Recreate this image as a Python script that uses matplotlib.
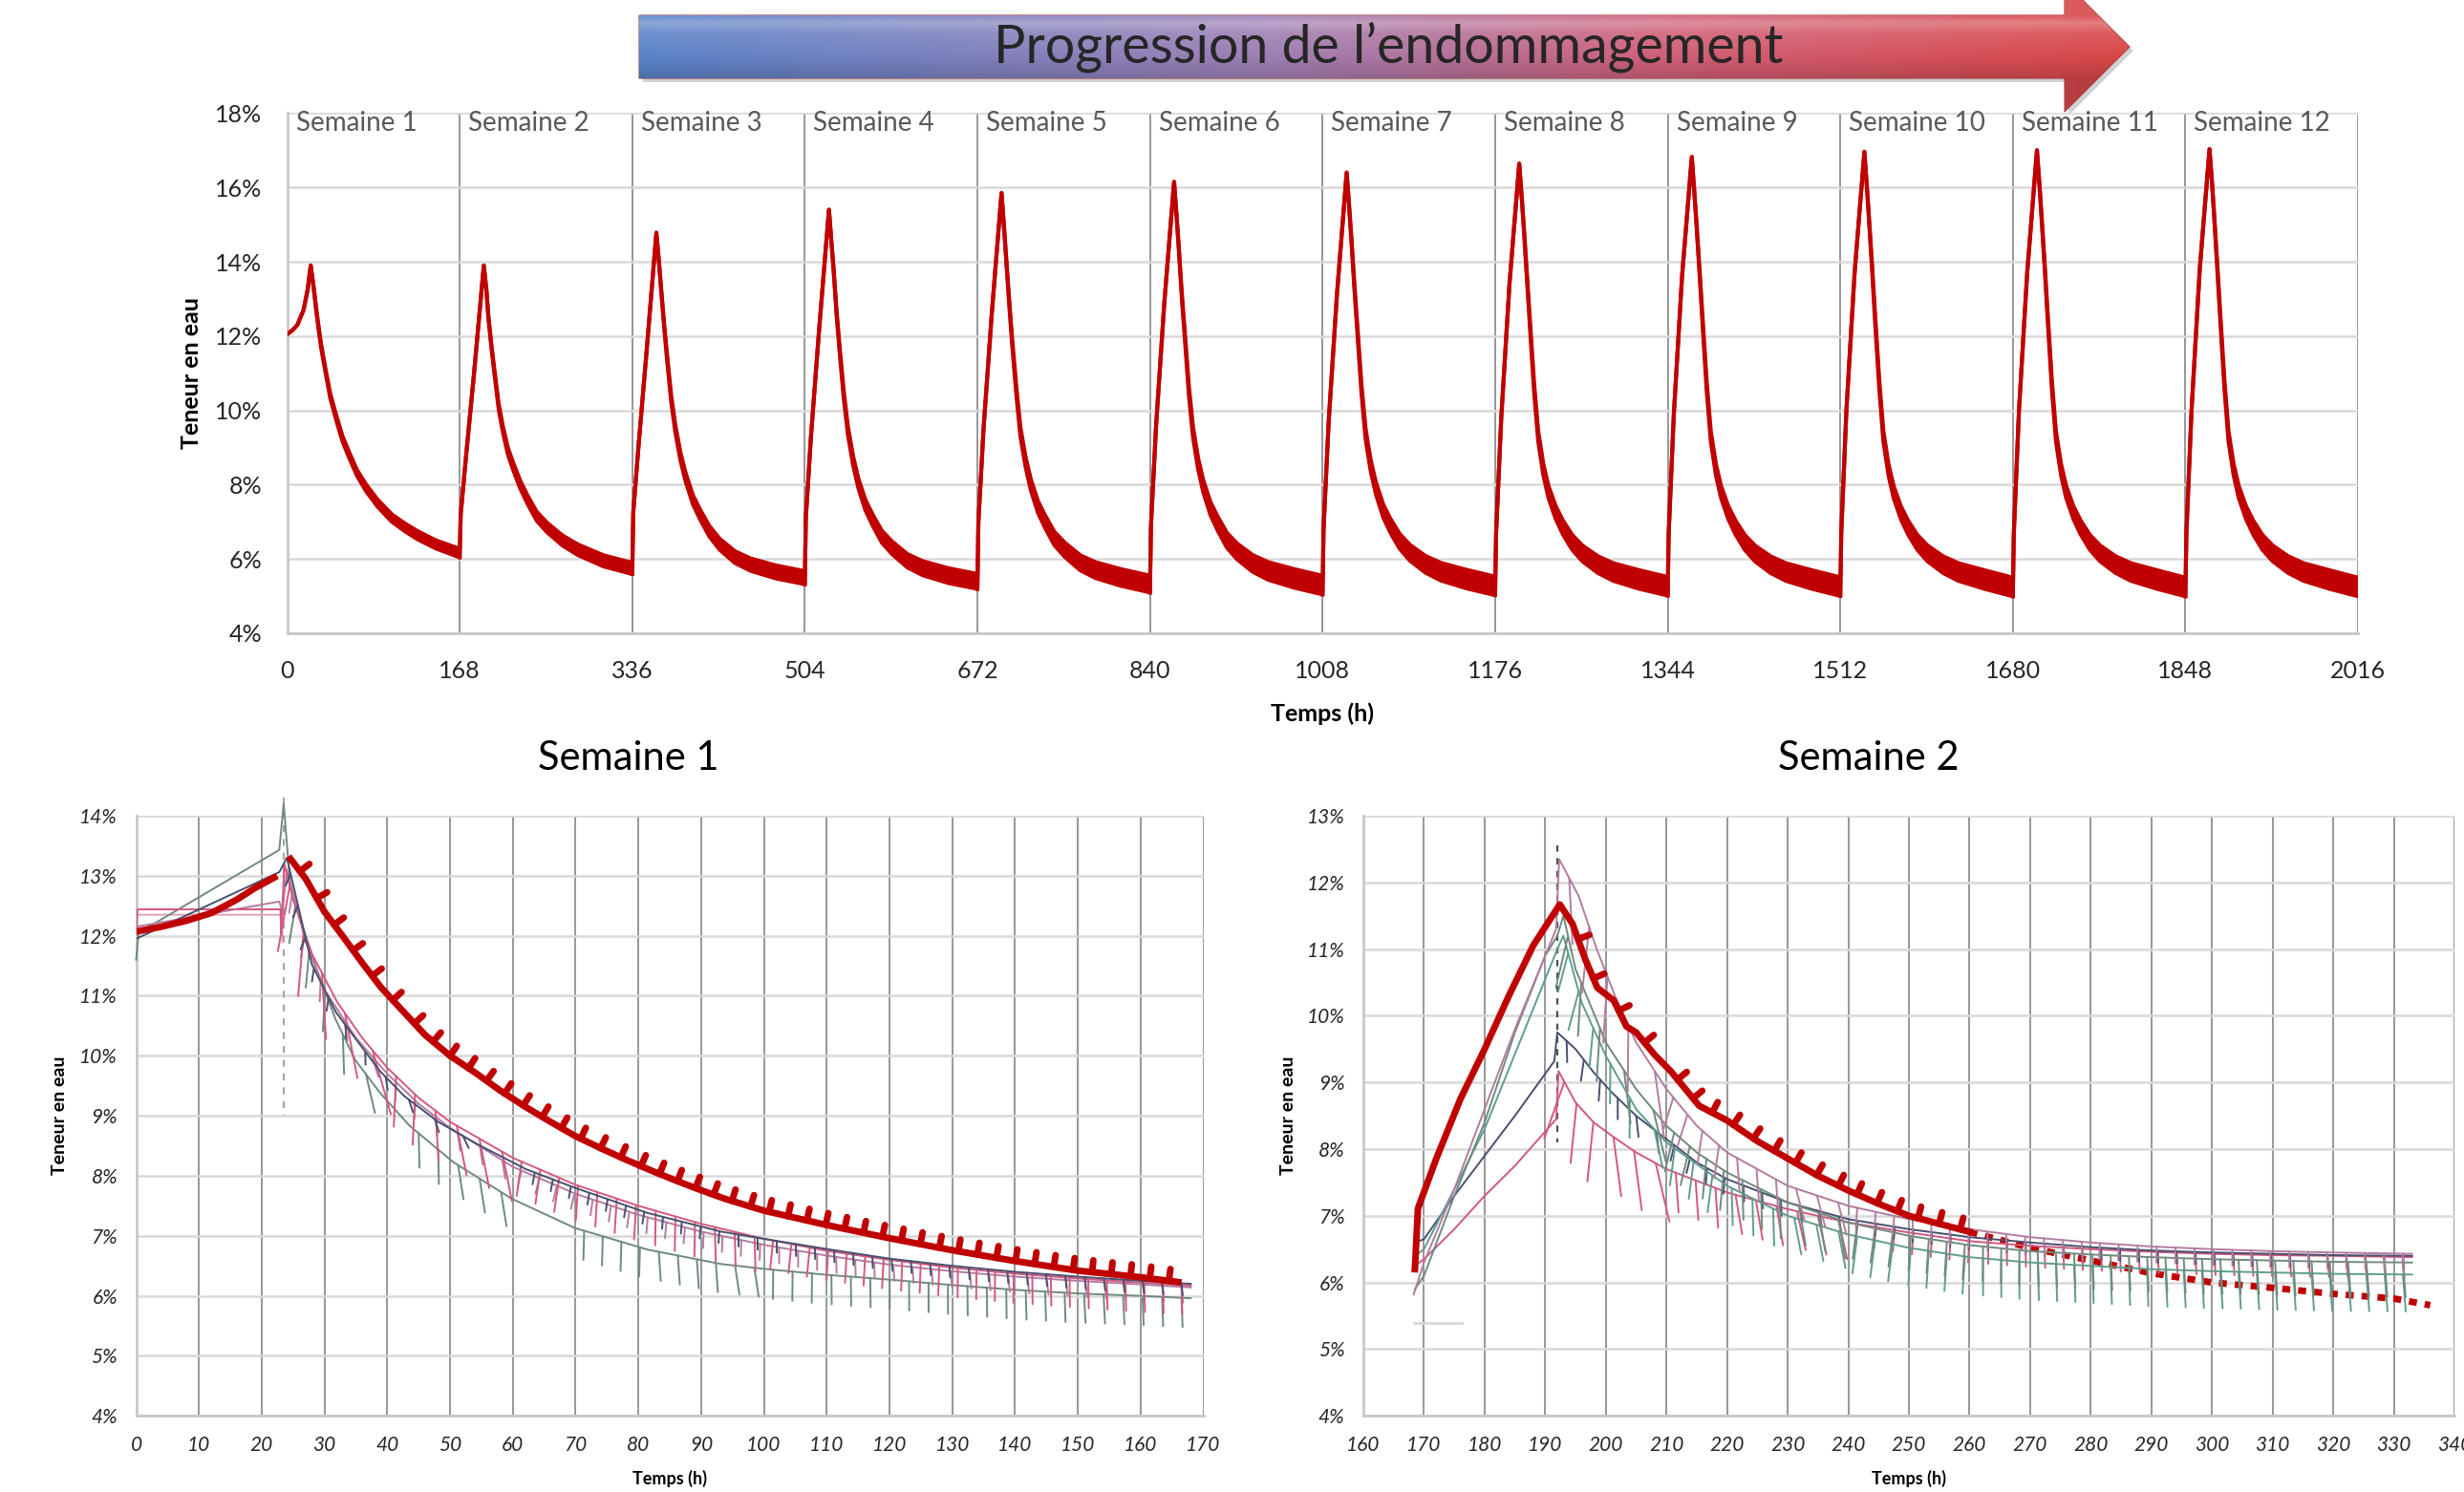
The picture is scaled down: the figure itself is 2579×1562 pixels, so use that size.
import numpy as np
import matplotlib.pyplot as plt
import matplotlib.patheffects as pe
from matplotlib.patches import Polygon
from matplotlib.colors import LinearSegmentedColormap

plt.rcParams['font.family'] = ['Lato', 'DejaVu Sans']

RED = '#c00000'
GREEN = '#6e8b7d'
SLATE = '#48506e'
PINK = '#d4587f'
MAUVE = '#b37ca0'
LPINK = '#e3a0b5'
TEAL = '#5f9e8f'

# ---------------- top chart : 12 weeks ----------------
week_labels = ['Semaine %d' % k for k in range(1, 13)]
top_xticks = [0, 168, 336, 504, 672, 840, 1008, 1176, 1344, 1512, 1680, 1848, 2016]
top_yticks = [4, 6, 8, 10, 12, 14, 16, 18]

# week 1 (hours from start, upper / lower edge of the red band, %)
w1_hours = [0, 5, 10, 16, 20, 23, 26, 29, 33, 37.5, 42, 48, 54, 60, 68, 77, 88, 102, 115, 127,
            145, 167.5]
w1_hi = [12.05, 12.15, 12.3, 12.7, 13.25, 13.9, 13.3, 12.6, 11.8, 11.1, 10.45, 9.85, 9.3, 8.9,
         8.4, 8.0, 7.6, 7.2, 6.95, 6.75, 6.5, 6.28]
w1_lo = [12.05, 12.15, 12.3, 12.7, 13.25, 13.9, 13.25, 12.52, 11.7, 11.0, 10.33, 9.72, 9.16,
         8.75, 8.24, 7.82, 7.41, 7.0, 6.74, 6.53, 6.28, 6.05]

# weeks 2..12 : hours from the start of each week, mid line of the band (%)
week_hours = [0, 1, 6, 14, 23.5, 26, 28, 31, 34, 38, 42, 47, 52, 59, 66, 75, 85, 100, 115, 140,
              167.5]
week_mid = [
    [6.05, 7.2, 8.7, 11.0, 13.9, 13.25, 12.5, 11.7, 11.0, 10.1, 9.5, 8.9, 8.5, 8.0, 7.6, 7.15,
     6.85, 6.5, 6.25, 5.95, 5.75],
    [5.6, 7.25, 9.0, 11.6, 14.78, 14.0, 13.3, 12.3, 11.4, 10.3, 9.5, 8.75, 8.2, 7.6, 7.2, 6.75,
     6.4, 6.05, 5.85, 5.65, 5.5],
    [5.33, 7.1, 9.3, 12.2, 15.4, 14.5, 13.8, 12.6, 11.6, 10.4, 9.45, 8.65, 8.05, 7.45, 7.05, 6.6,
     6.3, 5.95, 5.75, 5.55, 5.4],
    [5.2, 7.0, 9.5, 12.6, 15.85, 14.9, 14.1, 12.9, 11.8, 10.5, 9.4, 8.6, 8.0, 7.4, 7.0, 6.55,
     6.25, 5.9, 5.7, 5.5, 5.33],
    [5.1, 6.9, 9.6, 12.9, 16.15, 15.2, 14.4, 13.1, 12.0, 10.5, 9.4, 8.55, 7.95, 7.35, 6.95, 6.5,
     6.2, 5.88, 5.68, 5.48, 5.3],
    [5.05, 6.8, 9.7, 13.1, 16.4, 15.45, 14.65, 13.35, 12.15, 10.55, 9.35, 8.5, 7.9, 7.3, 6.9,
     6.48, 6.17, 5.86, 5.66, 5.46, 5.28],
    [5.03, 6.7, 9.8, 13.4, 16.64, 15.7, 14.9, 13.6, 12.3, 10.6, 9.3, 8.4, 7.8, 7.25, 6.85, 6.45,
     6.15, 5.85, 5.65, 5.45, 5.27],
    [5.02, 6.7, 9.9, 13.6, 16.82, 15.85, 15.05, 13.75, 12.4, 10.65, 9.3, 8.4, 7.8, 7.25, 6.85,
     6.45, 6.15, 5.85, 5.65, 5.45, 5.26],
    [5.01, 6.7, 10.0, 13.7, 16.96, 16.0, 15.15, 13.85, 12.45, 10.7, 9.3, 8.4, 7.8, 7.25, 6.85,
     6.45, 6.15, 5.85, 5.65, 5.45, 5.25],
    [5.0, 6.7, 10.0, 13.7, 17.0, 16.05, 15.2, 13.9, 12.5, 10.7, 9.3, 8.4, 7.8, 7.25, 6.85, 6.45,
     6.15, 5.85, 5.65, 5.45, 5.25],
    [5.0, 6.7, 10.0, 13.8, 17.03, 16.1, 15.25, 13.9, 12.5, 10.7, 9.3, 8.4, 7.8, 7.25, 6.85,
     6.45, 6.15, 5.85, 5.65, 5.45, 5.25],
]
# thickness of the band (daily cycles) : share of the end-of-week width, and that width
band_shape = [0, 0, 0, 0, 0, 0.1, 0.2, 0.3, 0.4, 0.5, 0.55, 0.6, 0.65, 0.7, 0.75, 0.8, 0.85,
              0.9, 0.95, 1.0, 1.0]
band_end = [0.3, 0.35, 0.4, 0.45, 0.5, 0.5, 0.5, 0.5, 0.5, 0.5, 0.5]

# ---------------- bottom left : Semaine 1 ----------------
s1_xticks = list(range(0, 171, 10))
s1_yticks = [4, 5, 6, 7, 8, 9, 10, 11, 12, 13, 14]

red1a_t = [0, 4, 8, 12, 16, 19, 22]
red1a_v = [12.07, 12.15, 12.25, 12.38, 12.6, 12.8, 12.97]
red1b_t = [24.6, 27, 30, 33, 36, 39, 42, 46, 50, 54, 58, 62, 66, 70, 74, 78, 82, 86, 90, 94,
           100, 110, 120, 130, 140, 150, 160, 166]
red1b_v = [13.28, 12.95, 12.4, 11.98, 11.55, 11.14, 10.8, 10.35, 10.0, 9.72, 9.42, 9.15, 8.9,
           8.66, 8.46, 8.27, 8.09, 7.92, 7.76, 7.61, 7.42, 7.18, 6.96, 6.76, 6.58, 6.42, 6.31, 6.23]

gs1_t = [0, 0.4, 22.8, 23.5, 24.5, 26, 28.7, 31.8, 34.9, 38.8, 43.5, 50.5, 59.8, 69.9, 81.5,
         93.2, 100, 110, 120, 130, 140, 150, 160, 168]
gs1_v = [11.6, 12.05, 13.43, 14.2, 12.9, 12.3, 11.46, 10.6, 9.93, 9.39, 8.84, 8.23, 7.62, 7.13,
         6.77, 6.53, 6.45, 6.35, 6.27, 6.18, 6.1, 6.04, 6.0, 5.96]
ds1_t = [0, 22.8, 24, 28, 31.8, 35.7, 38.8, 42.7, 48.1, 54.3, 62.1, 69.9, 81.5, 93.2, 100, 110,
         120, 130, 140, 150, 160, 168]
ds1_v = [11.95, 13.06, 13.3, 11.52, 10.73, 10.18, 9.75, 9.33, 8.9, 8.53, 8.11, 7.8, 7.38, 7.07,
         6.95, 6.78, 6.62, 6.5, 6.4, 6.32, 6.25, 6.2]
pk1_t = [0, 0.2, 23.0, 23.1, 23.6, 25, 28, 32, 36, 40, 45, 50, 60, 70, 80, 90, 100, 110, 120,
         130, 140, 150, 160, 168]
pk1_v = [12.0, 12.44, 12.44, 12.0, 13.2, 12.6, 11.7, 10.9, 10.3, 9.8, 9.3, 8.9, 8.3, 7.85, 7.5,
         7.2, 6.95, 6.75, 6.6, 6.47, 6.37, 6.29, 6.22, 6.17]
mv1_t = [0, 22.8, 23.3, 24, 27, 30, 35, 40, 45, 50, 60, 70, 80, 90, 100, 110, 120, 130, 140,
         150, 160, 168]
mv1_v = [12.15, 12.57, 12.4, 13.1, 11.9, 11.1, 10.3, 9.7, 9.2, 8.8, 8.15, 7.7, 7.35, 7.07, 6.85,
         6.67, 6.52, 6.41, 6.32, 6.25, 6.19, 6.14]
lp1_t = [0.3, 23.2, 23.3]
lp1_v = [12.35, 12.35, 11.9]
dash1_t = [23.5, 23.5]
dash1_v = [14.3, 9.0]

# ---------------- bottom right : Semaine 2 ----------------
s2_xticks = list(range(160, 341, 10))
s2_yticks = [4, 5, 6, 7, 8, 9, 10, 11, 12, 13]

red2a_t = [168.5, 169, 172, 176, 180, 184, 188, 192.4, 194.5, 196.6, 198.6, 201.3, 203.4, 205,
           208.1, 210.7, 215.4, 220, 225, 230, 235, 240, 245, 250, 255, 260]
red2a_v = [6.2, 7.11, 7.85, 8.75, 9.5, 10.3, 11.05, 11.67, 11.38, 10.85, 10.42, 10.23, 9.84,
           9.75, 9.41, 9.17, 8.65, 8.43, 8.12, 7.86, 7.6, 7.38, 7.18, 7.0, 6.88, 6.76]
red2b_t = [260, 270, 280, 290, 300, 310, 320, 330, 336]
red2b_v = [6.76, 6.52, 6.33, 6.14, 6.0, 5.92, 5.83, 5.76, 5.66]

gs2_t = [168.5, 170, 175, 180, 185, 190, 192, 193, 195, 200, 205, 210, 215, 220, 230, 240, 250,
         260, 270, 280, 290, 300, 310, 320, 333]
gs2_v = [5.9, 6.1, 7.3, 8.4, 9.75, 10.9, 11.2, 11.5, 10.7, 9.6, 8.9, 8.35, 7.95, 7.65, 7.2, 6.9,
         6.7, 6.56, 6.47, 6.42, 6.38, 6.35, 6.33, 6.31, 6.3]
ds2_t = [168.5, 170, 175, 180, 185, 191.5, 192, 195, 198, 201, 205, 210, 215, 220, 230, 240,
         250, 260, 270, 280, 290, 300, 310, 320, 333]
ds2_v = [6.6, 6.65, 7.3, 7.9, 8.5, 9.32, 9.75, 9.5, 9.15, 8.85, 8.5, 8.15, 7.8, 7.55, 7.2, 6.95,
         6.8, 6.68, 6.6, 6.53, 6.48, 6.45, 6.43, 6.41, 6.4]
pk2_t = [168.5, 170, 175, 180, 185, 191.8, 192.2, 195, 198, 201, 205, 210, 220, 230, 240, 250,
         260, 270, 280, 290, 300, 310, 320, 333]
pk2_v = [6.25, 6.35, 6.8, 7.3, 7.75, 8.45, 9.17, 8.7, 8.4, 8.2, 7.95, 7.7, 7.35, 7.1, 6.9, 6.75,
         6.62, 6.55, 6.5, 6.46, 6.43, 6.41, 6.4, 6.38]
mv2_t = [168.3, 170, 175, 180, 185, 191.8, 192.3, 195.5, 198.5, 201.5, 205, 210, 215, 220, 230,
         240, 250, 260, 270, 280, 290, 300, 310, 320, 333]
mv2_v = [5.82, 6.3, 7.4, 8.6, 9.8, 11.3, 12.35, 11.8, 11.0, 10.3, 9.6, 8.9, 8.35, 7.95, 7.45,
         7.15, 6.95, 6.8, 6.68, 6.6, 6.54, 6.5, 6.47, 6.45, 6.43]
tl2_t = [168.5, 170, 180, 192, 193, 196, 200, 205, 210, 220, 230, 240, 250, 260, 270, 280, 290,
         300, 310, 320, 333]
tl2_v = [6.4, 6.5, 8.3, 11.0, 11.2, 10.2, 9.4, 8.6, 8.1, 7.45, 7.0, 6.72, 6.52, 6.38, 6.3, 6.25,
         6.2, 6.17, 6.15, 6.13, 6.12]
dash2_t = [192, 192]
dash2_v = [12.55, 8.1]
gl2_t = [168.3, 176.3]
gl2_v = [5.39, 5.39]


def draw(ax, t, v, color, lw, teeth=(), up=False, base=14, z=3, ls='-', clip=True):
    """teeth: (from h, to h, depth in pt, on-screen slope of the curve in degrees)"""
    t = np.asarray(t, float)
    v = np.asarray(v, float)
    ax.plot(t, v, color=color, lw=lw, zorder=z, ls=ls, clip_on=clip, solid_joinstyle='round')
    # the 3-hour wetting cycles show up as ticks along the drying curve
    for a, b, depth, slope in teeth:
        m = (t >= a) & (t <= b)
        spacing = base / np.cos(np.radians(slope))
        angle = 90 if up else -90 - slope
        ax.plot(t[m], v[m], color=color, lw=lw, zorder=z, clip_on=clip, solid_capstyle='round',
                path_effects=[pe.TickedStroke(spacing=spacing, length=depth / spacing, angle=angle)])


def style(ax, xticks, yticks, xlim, ylim, fs, italic):
    ax.set_xlim(*xlim)
    ax.set_ylim(*ylim)
    kw = dict(fontsize=fs, color='#262626')
    if italic:
        kw['fontstyle'] = 'italic'
    ax.set_xticks(xticks, [str(x) for x in xticks], **kw)
    ax.set_yticks(yticks, ['%d%%' % y for y in yticks], **kw)
    ax.set_axisbelow(True)
    ax.grid(axis='y', color='#d9d9d9', lw=1.8)
    ax.grid(axis='x', color='#8f8f8f', lw=1.3)
    ax.tick_params(length=0)
    for s in ('top', 'right'):
        ax.spines[s].set_visible(False)
    for s in ('left', 'bottom'):
        ax.spines[s].set_color('#c8c8c8')
        ax.spines[s].set_linewidth(2)


W, H = 2579, 1562
fig = plt.figure(figsize=(W / 100, H / 100), dpi=100)

# overlay in pixel coordinates for the arrow and free labels
ov = fig.add_axes([0, 0, 1, 1])
ov.axis('off')

arrow = [(669, 16), (2161, 16), (2161, -19), (2229, 49), (2161, 117), (2161, 82), (669, 82)]
shadow = Polygon([(x + 4, y + 4) for x, y in arrow], closed=True, fc='#000000', alpha=0.18, ec='none')
ov.add_patch(shadow)
poly = Polygon(arrow, closed=True, fc='none', ec='#9a3a3a', lw=0.8)
ov.add_patch(poly)
cmap = LinearSegmentedColormap.from_list('prog', [(0, '#5a82c8'), (0.42, '#9d7fb3'),
                                                  (0.68, '#cf6079'), (1, '#d84646')])
rgb = cmap(np.linspace(0, 1, 600))[:, :3]
ys = np.linspace(-19, 117, 140)
shade = np.interp(ys, [16, 24, 34, 60, 82], [0.1, 0.3, 0.12, 0.0, -0.15])
img = np.empty((len(ys), len(rgb), 3))
for i, s in enumerate(shade):
    img[i] = rgb + s * (1 - rgb) if s >= 0 else rgb * (1 + s)
im = ov.imshow(img, extent=(669, 2229, 117, -19), aspect='auto', zorder=1)
im.set_clip_path(poly)
ov.text(1453, 66, 'Progression de l\u2019endommagement', ha='center', va='baseline',
        fontsize=40, color='#262626', zorder=3)
ov.set_xlim(0, W)
ov.set_ylim(H, 0)

# ---- top chart ----
ax = fig.add_axes([300.5 / W, 1 - 663 / H, 2167.5 / W, 544.6 / H])
ax.set_facecolor('none')
style(ax, top_xticks, top_yticks, (0, 2016), (4, 18), 18, False)
ax.tick_params(axis='x', pad=20)
ax.tick_params(axis='y', pad=19)
for k in range(12):
    if k == 0:
        x = np.array(w1_hours)
        hi, lo = np.array(w1_hi), np.array(w1_lo)
    else:
        x = top_xticks[k] + np.array(week_hours)
        half = np.array(band_shape) * band_end[k - 1] / 2
        hi = np.array(week_mid[k - 1]) + half
        lo = np.array(week_mid[k - 1]) - half
    ax.fill_between(x, lo, hi, color=RED, lw=0, zorder=4)
    ax.plot(x, hi, color=RED, lw=3, zorder=4, solid_joinstyle='round')
    ax.plot(x, lo, color=RED, lw=3, zorder=4, solid_joinstyle='round')
    ax.annotate(week_labels[k], (top_xticks[k], 18), xytext=(6.5, 1.5), textcoords='offset points',
                ha='left', va='top', fontsize=20, color='#595959')

ov.text(1384, 747, 'Temps (h)', ha='center', va='center', fontsize=18, fontweight='bold')
ov.text(200, 391, 'Teneur en eau', ha='center', va='center', rotation=90, fontsize=18,
        fontweight='bold')

# ---- Semaine 1 ----
a1 = fig.add_axes([142.5 / W, 1 - 1482.3 / H, 1117 / W, 628.3 / H])
a1.set_facecolor('none')
style(a1, s1_xticks, s1_yticks, (0, 170), (4, 14), 15, True)
a1.tick_params(axis='x', pad=15)
a1.tick_params(axis='y', pad=14)
draw(a1, dash1_t, dash1_v, '#9a9a9a', 1.3, ls=(0, (4, 4)), clip=False)
draw(a1, lp1_t, lp1_v, LPINK, 1.4)
draw(a1, gs1_t, gs1_v, GREEN, 1.4, clip=False,
     teeth=[(24.5, 40, 30, -66), (40, 60, 26, -41), (60, 100, 22, -15), (100, 170, 22, -5)])
draw(a1, mv1_t, mv1_v, MAUVE, 1.4,
     teeth=[(24, 40, 16, -66), (40, 60, 14, -41), (60, 170, 12, -10)])
draw(a1, pk1_t, pk1_v, PINK, 1.4,
     teeth=[(23.6, 40, 50, -66), (40, 60, 38, -41), (60, 100, 26, -15), (100, 170, 22, -5)])
draw(a1, ds1_t, ds1_v, SLATE, 1.4, teeth=[(24, 60, 10, -55), (60, 170, 9, -10)])
draw(a1, red1a_t, red1a_v, RED, 5, z=5)
draw(a1, red1b_t, red1b_v, RED, 5, up=True, z=5,
     teeth=[(24.6, 46, 9, -53), (46, 82, 9, -30), (82, 170, 9, -8)])

ov.text(658, 794, 'Semaine 1', ha='center', va='center', fontsize=30)
ov.text(701, 1548, 'Temps (h)', ha='center', va='center', fontsize=13, fontweight='bold')
ov.text(62, 1168, 'Teneur en eau', ha='center', va='center', rotation=90, fontsize=14,
        fontweight='bold')

# ---- Semaine 2 ----
a2 = fig.add_axes([1427 / W, 1 - 1482.3 / H, 1142 / W, 628.3 / H])
a2.set_facecolor('none')
style(a2, s2_xticks, s2_yticks, (160, 340), (4, 13), 15, True)
a2.tick_params(axis='x', pad=15)
a2.tick_params(axis='y', pad=14)
b2 = 13.7
draw(a2, gl2_t, gl2_v, '#d8d8d8', 2)
draw(a2, red2b_t, red2b_v, RED, 5, ls=(0, (1.2, 1.2)), z=2)
draw(a2, dash2_t, dash2_v, '#505050', 1.6, ls=(0, (3, 3)))
draw(a2, pk2_t, pk2_v, PINK, 1.4, base=b2,
     teeth=[(192.2, 210, 45, -42), (210, 240, 30, -25), (240, 340, 16, -5)])
draw(a2, ds2_t, ds2_v, SLATE, 1.4, base=b2,
     teeth=[(192, 210, 16, -44), (210, 240, 12, -24), (240, 340, 9, -5)])
draw(a2, tl2_t, tl2_v, TEAL, 1.4, base=b2,
     teeth=[(193, 210, 30, -60), (210, 240, 28, -28), (240, 340, 28, -5)])
draw(a2, gs2_t, gs2_v, GREEN, 1.4, base=b2,
     teeth=[(193, 210, 40, -64), (210, 240, 30, -28), (240, 340, 26, -5)])
draw(a2, mv2_t, mv2_v, MAUVE, 1.4, base=b2,
     teeth=[(192.3, 210, 50, -65), (210, 240, 25, -33), (240, 280, 14, -8), (280, 340, 12, -2)])
draw(a2, red2a_t, red2a_v, RED, 5, up=True, base=b2, z=5,
     teeth=[(193, 210, 9, -56), (210, 240, 9, -33), (240, 260, 9, -19)])

ov.text(1956, 794, 'Semaine 2', ha='center', va='center', fontsize=30)
ov.text(1998, 1548, 'Temps (h)', ha='center', va='center', fontsize=13, fontweight='bold')
ov.text(1348, 1168, 'Teneur en eau', ha='center', va='center', rotation=90, fontsize=14,
        fontweight='bold')

fig.savefig('out.png', dpi=100)
